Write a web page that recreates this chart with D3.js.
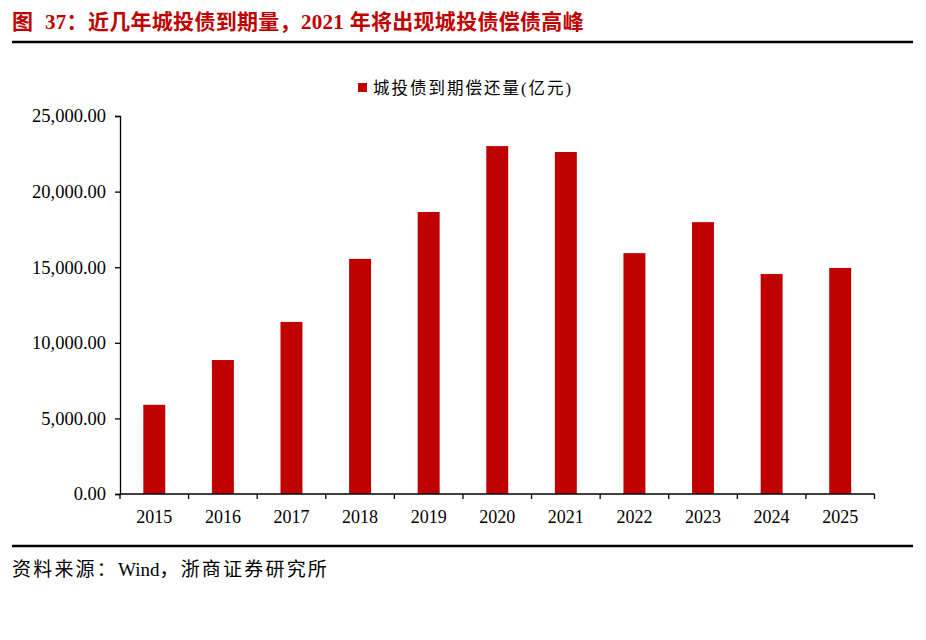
<!DOCTYPE html>
<html><head><meta charset="utf-8">
<script src="https://cdn.jsdelivr.net/npm/d3@7"></script>
<style>body{margin:0;background:#fff}</style>
</head><body>
<svg id="c" width="926" height="640"></svg>
<script>
const years = ["2015","2016","2017","2018","2019","2020","2021","2022","2023","2024","2025"];
const values = [5900, 8860, 11380, 15550, 18650, 23010, 22620, 15930, 17980, 14550, 14950];
const yTicks = [0, 5000, 10000, 15000, 20000, 25000];
const seriesName = "城投债到期偿还量(亿元)";
const titleHead = "图";
const titleBody = "37：近几年城投债到期量，2021 年将出现城投债偿债高峰";
const sourceParts = ["资料来源：", "Wind", "，浙商证券研究所"];

const svg = d3.select("#c");
const red = "#c00000";
const serif = "'Liberation Serif','Times New Roman','Noto Sans CJK SC',serif";

const tt = svg.append("text").attr("x", 12).attr("y", 29)
  .attr("fill", red).attr("font-weight", "bold").attr("font-size", 21)
  .attr("font-family", serif).attr("letter-spacing", 0.3);
tt.append("tspan").text(titleHead);
tt.append("tspan").attr("x", 45).text(titleBody);
svg.append("line").attr("x1", 12).attr("x2", 913).attr("y1", 42).attr("y2", 42)
  .attr("stroke", "#000").attr("stroke-width", 2.5);
svg.append("line").attr("x1", 12).attr("x2", 913).attr("y1", 546).attr("y2", 546)
  .attr("stroke", "#000").attr("stroke-width", 2.5);
const st = svg.append("text").attr("x", 12).attr("y", 576)
  .attr("font-size", 19).attr("font-family", serif).attr("fill", "#000");
st.append("tspan").attr("letter-spacing", 2.2).text(sourceParts[0]);
st.append("tspan").attr("letter-spacing", 0).text(sourceParts[1]);
st.append("tspan").attr("letter-spacing", 2.2).text(sourceParts[2]);

const x = d3.scaleBand().domain(years).range([120, 874.5]).padding(0);
const y = d3.scaleLinear().domain([0, 25000]).range([494, 116]);

const g = svg.append("g");
g.selectAll("rect.bar").data(values).join("rect").attr("class", "bar")
  .attr("x", (d, i) => x(years[i]) + x.bandwidth() * 0.34)
  .attr("width", x.bandwidth() * 0.32)
  .attr("y", d => y(d)).attr("height", d => y(0) - y(d))
  .attr("fill", red);

// y axis
const ya = g.append("g").attr("transform", "translate(120,0)")
  .call(d3.axisLeft(y).tickValues(yTicks).tickFormat(d3.format(",.2f")).tickSizeOuter(0).tickSize(5).tickPadding(9));
ya.selectAll("text").attr("font-size", 18.5).attr("font-family", serif).attr("fill", "#000");
ya.selectAll("line,path").attr("stroke", "#000").attr("stroke-width", 1.3);

// x axis
const xa = g.append("g").attr("transform", "translate(0,494)");
xa.append("line").attr("x1", 120).attr("x2", 874.5).attr("stroke", "#000").attr("stroke-width", 1.3);
const bounds = years.map(d => x(d)).concat([x(years[years.length-1]) + x.bandwidth()]);
xa.selectAll("line.tk").data(bounds).join("line").attr("class", "tk")
  .attr("x1", d => d).attr("x2", d => d).attr("y1", 0).attr("y2", 5)
  .attr("stroke", "#000").attr("stroke-width", 1.3);
xa.selectAll("text").data(years).join("text")
  .attr("x", d => x(d) + x.bandwidth() / 2).attr("y", 29)
  .attr("text-anchor", "middle").text(d => d)
  .attr("font-size", 18).attr("font-family", serif).attr("fill", "#000");

// legend
const lg = svg.append("g");
lg.append("rect").attr("x", 358).attr("y", 83).attr("width", 9).attr("height", 9).attr("fill", red);
lg.append("text").attr("x", 373).attr("y", 94).text(seriesName)
  .attr("font-size", 16.5).attr("letter-spacing", 2).attr("font-family", serif).attr("fill", "#000");
</script>
</body></html>
